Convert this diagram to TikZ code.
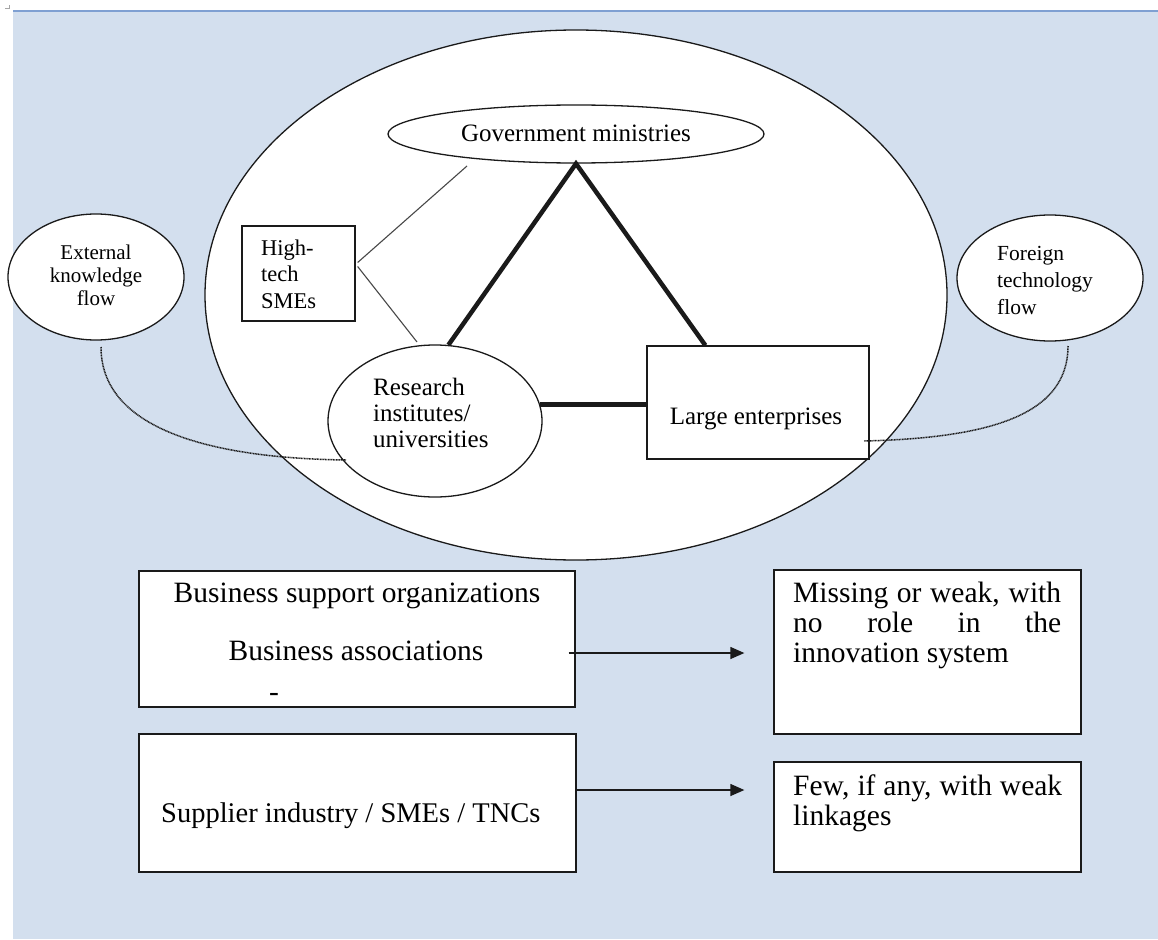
\documentclass[tikz,border=0pt]{standalone}
\usepackage{fontspec}
\setmainfont{Liberation Serif}
\usetikzlibrary{shapes.geometric,arrows.meta,calc}

\definecolor{panel}{HTML}{D3DFEE}
\definecolor{panelrule}{HTML}{7FA0D2}
\definecolor{ink}{HTML}{1A1A1A}

\begin{document}
\begin{tikzpicture}[x=1pt,y=-1pt,
  outline/.style={draw=ink,line width=1.3pt,fill=white,inner sep=0pt},
  oval/.style={outline,ellipse},
  box/.style={outline,rectangle},
  link/.style={draw=ink,line width=4.5pt},
  thinlink/.style={draw=ink!80,line width=1.1pt},
  flow/.style={draw=ink,line width=1.5pt,dash pattern=on 1pt off 0.6pt},
  arr/.style={draw=ink,line width=1.3pt,-{Triangle[length=14pt,width=12pt]}},
  txt/.style={inner sep=0pt,text=black},
  big/.style={txt,font=\fontsize{29.5}{30}\selectfont},
  mid/.style={txt,font=\fontsize{25}{26}\selectfont},
]
% page and panel
\useasboundingbox (0,0) rectangle (1158,939);
\fill[panel] (13,11) rectangle (1158,939);
\draw[panelrule,line width=2pt] (13,11) -- (1158,11);
\draw[gray!70,line width=1pt] (5,9) -- (9,9) -- (9,5);

% the national innovation system
\node[oval,minimum width=742pt,minimum height=530pt] (sys) at (576,295) {};

% internal links
\coordinate (gtip) at (467,166);
\coordinate (rtip) at (417,342);
\node[oval,minimum width=376pt,minimum height=58pt] (gov) at (576,134) {};
\node[oval,minimum width=214pt,minimum height=152pt] (res) at (435,421) {};
\node[box,minimum width=222pt,minimum height=113pt] (large) at (758,402.5) {};
\node[box,minimum width=113pt,minimum height=95pt] (sme) at (298.5,273.5) {};

\draw[link,line join=miter] (res.80) -- (gov.south) -- ($(large.north west)+(59,0)$);
\draw[link] (res.9) -- (res.9 -| large.west);
\draw[thinlink] ($(sme.east)+(2,-11)$) -- (gtip);
\draw[thinlink] ($(sme.east)+(2,-7)$) -- (rtip);

% outside flows
\node[oval,minimum width=176pt,minimum height=126pt] (ext) at (96,277) {};
\node[oval,minimum width=186pt,minimum height=126pt] (fgn) at (1050,278) {};
\coordinate (extfoot) at (101,347);
\coordinate (resin) at (346,460);
\coordinate (fgnfoot) at (1068,346);
\coordinate (largein) at (864,441);
\draw[flow] (extfoot) .. controls (101,425) and (200,458) .. (resin);
\draw[flow] (fgnfoot) .. controls (1068,415) and (990,438) .. (largein);

% labels inside the system
\node[mid] (govtxt) at (576,133) {Government ministries};
\node[txt,font=\fontsize{22.5}{26.5}\selectfont,align=left,anchor=west] (smetxt) at (261,274) {High-\\tech\\SMEs};
\node[mid,align=left,anchor=west] (restxt) at (373,413) {Research\\institutes/\\universities};
\node[mid] (largetxt) at (756,419) {Large enterprises};
\node[txt,font=\fontsize{21}{23}\selectfont,align=center] (exttxt) at (96,275) {External\\knowledge\\flow};
\node[txt,font=\fontsize{21.5}{27}\selectfont,align=left,anchor=west] (fgntxt) at (997,280) {Foreign\\technology\\flow};

% lower row
\node[box,minimum width=436pt,minimum height=136pt] (bso) at (357,639) {};
\node[box,minimum width=307pt,minimum height=164pt] (missing) at (927.5,652) {};
\node[box,minimum width=437pt,minimum height=138pt] (supplier) at (357.5,803) {};
\node[box,minimum width=307pt,minimum height=110pt] (few) at (927.5,817) {};

\node[big] (bsotxt) at (357,596) {Business support organizations};
\node[big] (batxt) at (356,651) {Business associations};
\node[big] (dashtxt) at (274,697) {-};
\node[txt,font=\fontsize{28.5}{30}\selectfont,anchor=west] (suptxt) at (161,816) {Supplier industry / SMEs / TNCs};
\node[big,align=left,anchor=west] (missingtxt) at (793,625) {\makebox[268pt][s]{Missing or weak, with}\\\makebox[268pt][s]{no role in the}\\innovation system};
\node[big,align=left,anchor=west] (fewtxt) at (793,803) {\makebox[269pt][s]{Few, if any, with weak}\\linkages};

\draw[arr] ($(bso.east)+(-7,14)$) -- ($(missing.west)+(-29,1)$);
\draw[arr] ($(supplier.east)+(0,-13)$) -- ($(few.west)+(-29,-27)$);
\end{tikzpicture}
\end{document}
